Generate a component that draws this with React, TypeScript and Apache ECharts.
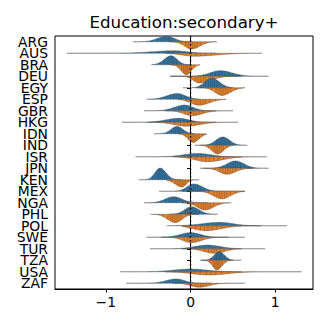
import React, { useEffect, useRef } from 'react';
import * as echarts from 'echarts';

const countries = ['ARG','AUS','BRA','DEU','EGY','ESP','GBR','HKG','IDN','IND','ISR','JPN','KEN','MEX','NGA','PHL','POL','SWE','TUR','TZA','USA','ZAF'];

// upper (blue) half: mode, left/right spread, extent, peak height (px at 11.5px band)
const blueMode = [-0.28,-0.2,-0.23,0.35,0.25,-0.16,-0.07,-0.14,-0.16,0.38,0.08,0.53,-0.36,0.04,-0.2,0.01,0.34,0.0,0.2,0.34,0.0,-0.17];
const blueSdL  = [0.11,0.25,0.08,0.12,0.08,0.12,0.12,0.15,0.07,0.08,0.16,0.1,0.06,0.08,0.1,0.08,0.2,0.12,0.15,0.06,0.2,0.12];
const blueSdR  = [0.09,0.15,0.07,0.14,0.09,0.1,0.1,0.12,0.07,0.08,0.16,0.1,0.07,0.1,0.1,0.09,0.16,0.12,0.15,0.06,0.2,0.1];
const blueLo   = [-0.68,-1.46,-0.46,-0.24,-0.09,-0.52,-0.55,-0.81,-0.43,0.11,-0.65,0.11,-0.61,-0.37,-0.55,-0.25,-0.28,-0.52,-0.48,0.11,-0.83,-0.76];
const blueHi   = [0.02,0.3,0.0,0.92,0.5,0.1,0.3,0.3,0.05,0.67,0.6,0.92,-0.1,0.64,0.2,0.32,1.14,0.64,0.88,0.6,0.6,0.25];
const blueH    = [5.4,2.5,9,5.6,9.7,5.7,5.7,4,7.3,8.3,3.3,7.3,11.7,7.3,6,7.5,3.4,4.6,3.7,8.6,2.7,4.3];

// lower (orange) half
const orangeMode = [0.01,0.05,-0.05,0.1,0.37,0.1,0.02,-0.04,0.03,0.32,0.2,0.43,-0.1,0.37,0.17,-0.18,0.18,0.01,0.28,0.31,0.22,0.1];
const orangeSdL  = [0.08,0.15,0.06,0.07,0.08,0.1,0.1,0.15,0.06,0.07,0.15,0.09,0.08,0.1,0.09,0.09,0.15,0.1,0.12,0.05,0.2,0.1];
const orangeSdR  = [0.1,0.25,0.06,0.14,0.1,0.12,0.12,0.15,0.07,0.07,0.18,0.1,0.05,0.1,0.1,0.08,0.18,0.12,0.12,0.06,0.22,0.12];
const orangeLo   = [-0.25,-0.3,-0.24,-0.24,0.07,-0.15,-0.3,-0.5,-0.15,0.05,-0.2,0.15,-0.28,-0.1,-0.1,-0.47,-0.1,-0.35,-0.1,0.13,-0.3,-0.2];
const orangeHi   = [0.31,0.84,0.11,0.6,0.64,0.42,0.5,0.56,0.19,0.5,0.9,0.75,0.1,0.64,0.48,0.1,0.83,0.45,0.6,0.5,1.31,0.64];
const orangeH    = [7.3,3,10,6.7,7.7,6,5,4,8.7,8.7,5,6,7.3,7.6,7.3,8.4,5,5.4,4.6,9.7,3.3,4];

const xTicks = [-1, 0, 1];
const BAND_PX = 11.5;
const BLUE = '#3274a1';
const ORANGE = '#e1812c';
const FONT = 'DejaVu Sans';

function dens(x: number, m: number, sl: number, sr: number, h: number) {
  const s = x < m ? sl : sr;
  const z = (x - m) / s;
  return h * Math.exp(-0.5 * z * z);
}

function half(api: any, i: number, base: number, scale: number, m: number, sl: number, sr: number, lo: number, hi: number, h: number, dir: number, color: string) {
  const N = 140;
  const pts: number[][] = [];
  const ds: number[] = [];
  for (let k = 0; k <= N; k++) {
    const x = lo + ((hi - lo) * k) / N;
    const d = dens(x, m, sl, sr, h) * scale;
    ds.push(d);
    const px = api.coord([x, i])[0];
    pts.push([px, base + dir * d]);
  }
  const poly = [[pts[0][0], base], ...pts, [pts[N][0], base]];
  const children: any[] = [
    {
      type: 'polygon',
      shape: { points: poly },
      style: { fill: color, stroke: 'rgba(70,70,70,0.55)', lineWidth: 0.7 },
    },
  ];
  // inner sticks at quantiles of the drawn shape
  const cum: number[] = [0];
  for (let k = 1; k <= N; k++) cum.push(cum[k - 1] + (ds[k] + ds[k - 1]) / 2);
  const tot = cum[N];
  const nS = 9;
  let k = 0;
  for (let s = 0; s < nS; s++) {
    const q = ((s + 0.5) / nS) * tot;
    while (k < N && cum[k] < q) k++;
    const px = pts[k][0];
    const d = ds[k];
    children.push({
      type: 'line',
      shape: { x1: px, y1: base, x2: px, y2: base + dir * d },
      style: { stroke: 'rgba(40,40,40,0.45)', lineWidth: 0.6 },
    });
  }
  return children;
}

export default function App() {
  const ref = useRef<HTMLDivElement>(null);
  useEffect(() => {
    const chart = echarts.init(ref.current!, null, { renderer: 'svg' });
    const fmt = (v: number) => (v < 0 ? '\u2212' + Math.abs(v) : String(v));
    chart.setOption({
      animation: false,
      backgroundColor: '#ffffff',
      textStyle: { fontFamily: FONT },
      grid: { left: 55, right: 15, top: 36, bottom: 39, show: true, borderColor: '#000', borderWidth: 1, backgroundColor: '#fff' },
      graphic: [
        {
          type: 'text',
          x: 184,
          y: 22,
          style: { text: 'Education:secondary+', fontSize: 16.7, fontFamily: FONT, fill: '#000', textAlign: 'center', textVerticalAlign: 'middle' },
        },
      ],
      xAxis: {
        type: 'value',
        min: -1.6,
        max: 1.445,
        splitLine: { show: false },
        axisLine: { show: true, onZero: false, lineStyle: { color: '#000', width: 1 } },
        axisTick: { show: true, length: 3.5, customValues: xTicks, lineStyle: { color: '#000', width: 1 } },
        axisLabel: { customValues: xTicks, formatter: fmt, fontSize: 13.9, color: '#000', fontFamily: FONT, margin: 6 },
      },
      yAxis: {
        type: 'category',
        data: countries,
        inverse: true,
        axisLine: { show: true, lineStyle: { color: '#000', width: 1 } },
        axisTick: { show: true, alignWithLabel: true, length: 3.5, lineStyle: { color: '#000', width: 1 } },
        axisLabel: { fontSize: 13.9, color: '#000', fontFamily: FONT, margin: 7, interval: 0 },
        splitLine: { show: false },
      },
      series: [
        {
          type: 'custom',
          data: countries.map((_, i) => [0, i]),
          encode: { x: 0, y: 1 },
          z: 2,
          renderItem: (params: any, api: any) => {
            const i = api.value(1);
            const base = api.coord([0, i])[1];
            const band = api.size([0, 1])[1];
            const scale = band / BAND_PX;
            const children = [
              ...half(api, i, base, scale, blueMode[i], blueSdL[i], blueSdR[i], blueLo[i], blueHi[i], blueH[i], -1, BLUE),
              ...half(api, i, base, scale, orangeMode[i], orangeSdL[i], orangeSdR[i], orangeLo[i], orangeHi[i], orangeH[i], 1, ORANGE),
            ];
            return { type: 'group', children };
          },
        },
        {
          type: 'custom',
          data: [[0, 0]],
          encode: { x: 0, y: 1 },
          z: 5,
          renderItem: (params: any, api: any) => {
            const cs = params.coordSys;
            const px = api.coord([0, 0])[0];
            return {
              type: 'line',
              shape: { x1: px, y1: cs.y, x2: px, y2: cs.y + cs.height },
              style: { stroke: '#000', lineWidth: 1.3, lineDash: [1.5, 2.5] },
            };
          },
        },
      ],
    });
    return () => chart.dispose();
  }, []);
  return <div ref={ref} style={{ position: 'fixed', left: 0, top: 0, width: 328, height: 328 }} />;
}
